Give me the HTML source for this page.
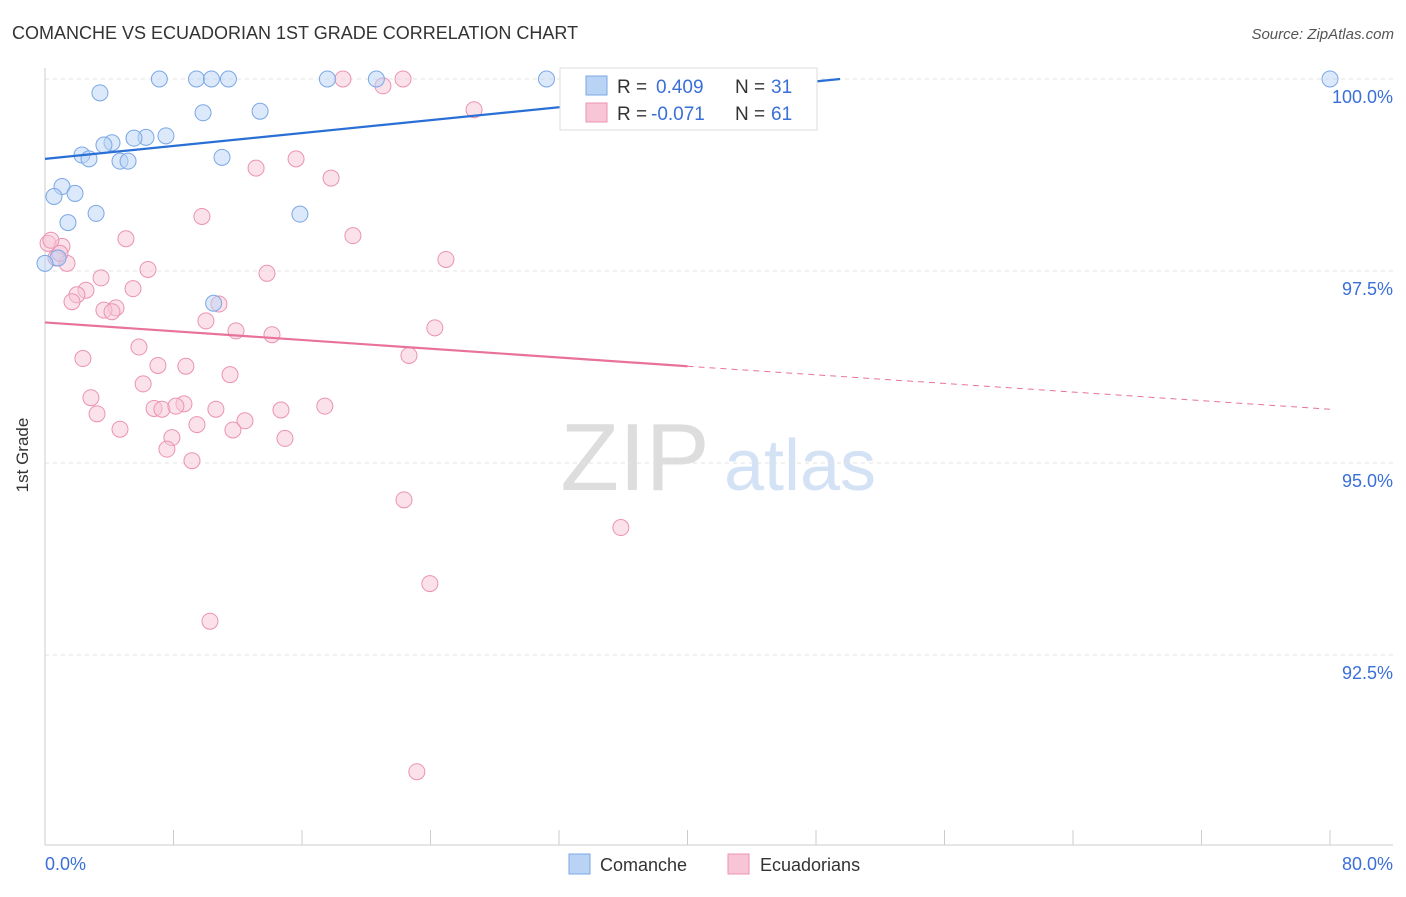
<!DOCTYPE html>
<html><head><meta charset="utf-8"><style>
body{margin:0;background:#fff;font-family:"Liberation Sans",sans-serif}
svg text{font-family:"Liberation Sans",sans-serif}
</style></head><body>
<svg width="1406" height="892" viewBox="0 0 1406 892">
<text x="12" y="39" font-size="18" fill="#333">COMANCHE VS ECUADORIAN 1ST GRADE CORRELATION CHART</text>
<text x="1394" y="39" font-size="15" fill="#555" font-style="italic" text-anchor="end">Source: ZipAtlas.com</text>
<g>
<text x="635" y="490" font-size="96" fill="#ddd" font-family="Liberation Serif" text-anchor="middle">ZIP</text>
<text x="800" y="490" font-size="72" fill="#d4e2f5" text-anchor="middle">atlas</text>
</g>
<g id="grid"></g>
<g id="axes"></g>
<g id="marks"></g>
<text x="28" y="455" font-size="17" fill="#333" transform="rotate(-90 28 455)" text-anchor="middle">1st Grade</text>
<g>
<rect x="560" y="68" width="257" height="62" fill="#fff" stroke="#ddd"/>
<rect x="586" y="76" width="21" height="19" fill="#b9d3f5" stroke="#7aa7e6"/>
<text x="617" y="93" font-size="19" fill="#333">R =</text>
<text x="656" y="93" font-size="19" fill="#3a6fd8">0.409</text>
<text x="735" y="93" font-size="19" fill="#333">N =</text>
<text x="771" y="93" font-size="19" fill="#3a6fd8">31</text>
<rect x="586" y="103" width="21" height="19" fill="#f8c5d6" stroke="#eb93b1"/>
<text x="617" y="120" font-size="19" fill="#333">R =</text>
<text x="651" y="120" font-size="19" fill="#3a6fd8">-0.071</text>
<text x="735" y="120" font-size="19" fill="#333">N =</text>
<text x="771" y="120" font-size="19" fill="#3a6fd8">61</text>
</g>
<g>
<rect x="569" y="854" width="21" height="20" fill="#b9d3f5" stroke="#7aa7e6"/>
<text x="600" y="871" font-size="18" fill="#333">Comanche</text>
<rect x="728" y="854" width="21" height="20" fill="#f8c5d6" stroke="#eb93b1"/>
<text x="760" y="871" font-size="18" fill="#333">Ecuadorians</text>
</g>
</svg>
<script>
const yTicks=[100,97.5,95,92.5];
const yTickLabels=["100.0%","97.5%","95.0%","92.5%"];
const xTickLabels=["0.0%","80.0%"];
const comancheX=[7.12,9.43,10.36,11.42,17.58,20.63,31.22,33.4,80,3.42,9.84,13.39,6.29,5.54,7.53,4.17,3.67,2.3,11.02,2.74,4.67,5.17,1.06,1.87,0.56,3.18,15.87,1.43,0.81,0,10.5];
const comancheY=[100,100,100,100,100,100,100,100,100,99.82,99.56,99.58,99.24,99.23,99.26,99.17,99.14,99.01,98.98,98.96,98.93,98.93,98.6,98.51,98.47,98.25,98.24,98.13,97.67,97.6,97.08];
const ecuX=[18.55,22.29,21.04,26.71,13.14,15.63,17.81,9.77,19.17,5.04,0.19,1.06,0.68,1.37,24.96,6.41,13.82,3.49,2.55,5.48,1.99,1.68,10.83,4.42,3.67,4.17,10.02,11.89,14.13,24.27,5.85,2.36,22.66,7.03,8.77,11.52,6.11,2.86,8.65,6.79,7.28,8.15,10.64,14.69,17.42,3.24,12.45,9.46,4.67,11.70,7.9,14.94,7.59,9.15,22.35,35.85,23.96,10.27,23.15,0.37,0.93];
const ecuY=[100,100,99.91,99.6,98.84,98.96,98.71,98.21,97.96,97.92,97.86,97.82,97.67,97.6,97.65,97.52,97.47,97.41,97.25,97.27,97.19,97.1,97.07,97.02,96.99,96.97,96.85,96.72,96.67,96.76,96.51,96.36,96.4,96.27,96.26,96.15,96.03,95.85,95.77,95.71,95.7,95.74,95.7,95.69,95.74,95.64,95.55,95.5,95.44,95.43,95.33,95.32,95.18,95.03,94.52,94.16,93.43,92.94,90.98,97.9,97.73];
const blueTrend=[[0,98.96],[49.5,100]];
const pinkTrend=[[0,96.83],[40,96.26],[80,95.7]];
const NS='http://www.w3.org/2000/svg';
const xS=v=>45+v/80*1285, yS=v=>79+(100-v)/2.5*192;
function mk(t,a,p){const e=document.createElementNS(NS,t);for(const k in a)e.setAttribute(k,a[k]);p.appendChild(e);return e;}
const grid=document.getElementById('grid'),axes=document.getElementById('axes'),marks=document.getElementById('marks');
yTicks.forEach((t,i)=>{
 const l=mk('line',{x1:45,x2:1393,y1:yS(t),y2:yS(t),stroke:'#e3e3e3','stroke-dasharray':'4,4'},grid);
 
 const tx=mk('text',{x:1393,y:yS(t)+24,'font-size':18,fill:'#3a6fd8','text-anchor':'end'},axes);
 tx.textContent=yTickLabels[i];
 
});
let ax=mk('line',{x1:45,x2:1393,y1:845,y2:845,stroke:'#ccc'},axes);

let ay=mk('line',{x1:45,x2:45,y1:68,y2:845,stroke:'#ccc'},axes);

for(let i=0;i<=10;i++){const t=mk('line',{x1:xS(i*8),x2:xS(i*8),y1:830,y2:845,stroke:'#ccc'},axes);
 }
[[0,'start',45],[80,'end',1393]].forEach((d,i)=>{const tx=mk('text',{x:d[2],y:870,'font-size':18,fill:'#3a6fd8','text-anchor':d[1]},axes);
 tx.textContent=xTickLabels[i];});
ecuX.forEach((x,i)=>{const c=mk('circle',{cx:xS(x),cy:yS(ecuY[i]),r:8,fill:'#f8c5d6','fill-opacity':0.5,stroke:'#eb93b1','stroke-width':1},marks);
 });
comancheX.forEach((x,i)=>{const c=mk('circle',{cx:xS(x),cy:yS(comancheY[i]),r:8,fill:'#b9d3f5','fill-opacity':0.5,stroke:'#7aa7e6','stroke-width':1},marks);
 });
let bl=mk('line',{x1:xS(blueTrend[0][0]),y1:yS(blueTrend[0][1]),x2:xS(blueTrend[1][0]),y2:yS(blueTrend[1][1]),stroke:'#2a6fd6','stroke-width':2.2},marks);

let pl=mk('line',{x1:xS(pinkTrend[0][0]),y1:yS(pinkTrend[0][1]),x2:xS(pinkTrend[1][0]),y2:yS(pinkTrend[1][1]),stroke:'#e8729c','stroke-width':2.2},marks);

let pd=mk('line',{x1:xS(pinkTrend[1][0]),y1:yS(pinkTrend[1][1]),x2:xS(pinkTrend[2][0]),y2:yS(pinkTrend[2][1]),stroke:'#e8729c','stroke-width':1,'stroke-dasharray':'6,5'},marks);

</script>
</body></html>
